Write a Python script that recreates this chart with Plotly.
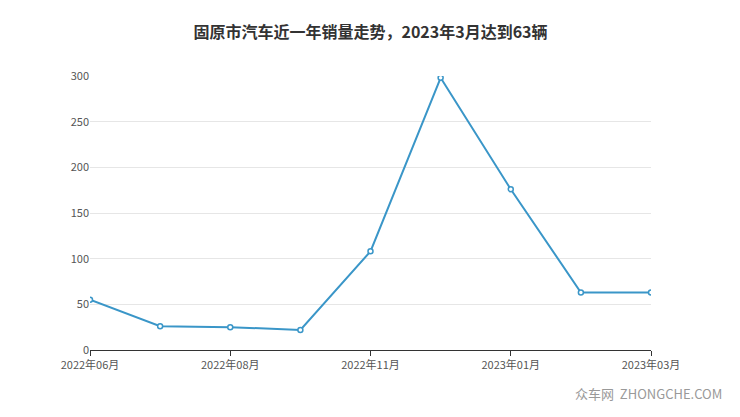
import plotly.graph_objects as go

months = ["2022年06月", "2022年07月", "2022年08月", "2022年10月", "2022年11月",
          "2022年12月", "2023年01月", "2023年02月", "2023年03月"]
sales = [55, 26, 25, 22, 108, 298, 176, 63, 63]
tick_months = ["2022年06月", "2022年08月", "2022年11月", "2023年01月", "2023年03月"]

fig = go.Figure()
fig.add_trace(go.Scatter(
    x=months, y=sales, mode="lines+markers",
    line=dict(color="#3a96c8", width=2),
    marker=dict(size=5, color="white", line=dict(color="#3a96c8", width=1.5)),
))

fig.update_layout(
    width=740, height=417,
    margin=dict(l=82, r=97, t=68, b=75),
    paper_bgcolor="white", plot_bgcolor="white",
    font=dict(family="Noto Sans CJK SC", color="#555", size=11),
    title=dict(text="<b>固原市汽车近一年销量走势，2023年3月达到63辆</b>",
               x=0.5, xref="paper", y=0.955, xanchor="center", font=dict(size=16, color="#333")),
    showlegend=False,
    xaxis=dict(type="category", tickvals=tick_months, ticks="outside", ticklen=5,
               tickcolor="#333", showline=True, linecolor="#333", showgrid=False,
               range=[0, 8]),
    yaxis=dict(range=[0, 300], tickvals=[0, 50, 100, 150, 200, 250, 300],
               gridcolor="#e6e6e6", zeroline=False, showline=False),
)
fig.add_annotation(text="众车网  ZHONGCHE.COM", xref="paper", yref="paper",
                   x=1.13, y=-0.2, xanchor="right", yanchor="bottom", showarrow=False,
                   font=dict(size=13, color="#999"))
fig.write_html("out.html")
